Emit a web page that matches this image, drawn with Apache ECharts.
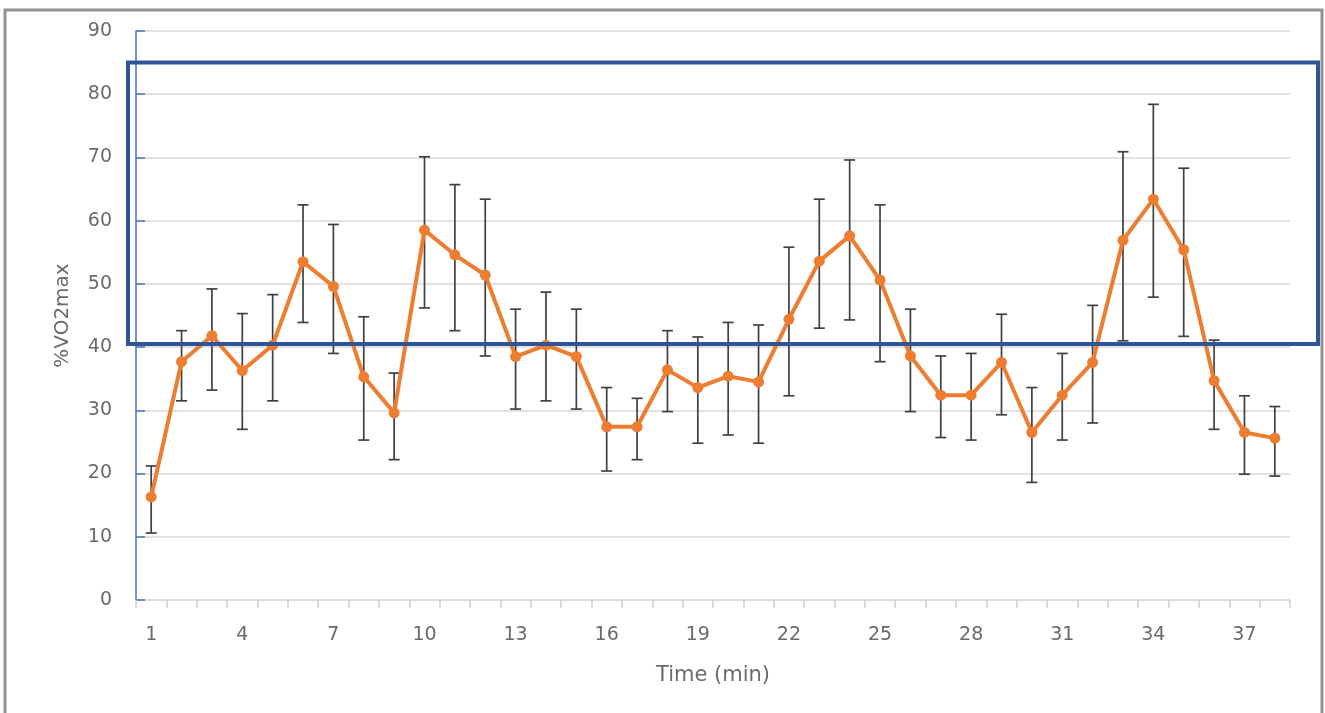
<!DOCTYPE html>
<html>
<head>
<meta charset="utf-8">
<script src="https://cdn.jsdelivr.net/npm/echarts@6/dist/echarts.min.js"></script>
<style>
html,body{margin:0;padding:0;background:#fff;}
#c{width:1325px;height:713px;}
</style>
</head>
<body>
<div id="c"></div>
<script>
var categories = ['1','2','3','4','5','6','7','8','9','10','11','12','13','14','15','16','17','18','19','20','21','22','23','24','25','26','27','28','29','30','31','32','33','34','35','36','37','38'];
var meanValues = [16.3,37.7,41.8,36.3,40.3,53.5,49.6,35.3,29.6,58.5,54.6,51.4,38.5,40.3,38.5,27.4,27.4,36.4,33.6,35.4,34.5,44.4,53.6,57.6,50.6,38.6,32.4,32.4,37.6,26.5,32.4,37.6,56.9,63.4,55.4,34.7,26.5,25.6];
var upperValues = [21.2,42.6,49.2,45.3,48.3,62.5,59.4,44.8,35.9,70.1,65.7,63.4,46.0,48.7,46.0,33.6,31.9,42.6,41.6,43.9,43.5,55.8,63.4,69.6,62.5,46.0,38.6,39.0,45.2,33.6,39.0,46.6,70.9,78.4,68.3,41.1,32.3,30.6];
var lowerValues = [10.6,31.5,33.2,27.0,31.5,43.9,39.0,25.3,22.2,46.2,42.6,38.6,30.2,31.5,30.2,20.4,22.2,29.8,24.8,26.1,24.8,32.3,43.0,44.3,37.7,29.8,25.7,25.3,29.3,18.6,25.3,28.0,41.0,47.9,41.7,27.0,19.9,19.6];
var yTicks = [0,10,20,30,40,50,60,70,80,90];
var highlightRange = [40.5, 85];

var errData = categories.map(function(c, i){ return [i, lowerValues[i], upperValues[i]]; });

var chart = echarts.init(document.getElementById('c'), null, {renderer:'canvas'});
var FONT = '"DejaVu Sans", "Open Sans", sans-serif';
var TXT = '#6a6a6a';
var option = {
  backgroundColor: '#ffffff',
  animation: false,
  grid: {left: 136, right: 35, top: 31, bottom: 113},
  xAxis: {
    type: 'category',
    data: categories,
    boundaryGap: true,
    name: 'Time (min)',
    nameLocation: 'middle',
    nameGap: 65,
    nameTextStyle: {color: TXT, fontSize: 21, fontFamily: FONT},
    axisLine: {lineStyle: {color: '#d9d9d9', width: 1.5}},
    axisTick: {show: true, interval: 0, length: 8, lineStyle: {color: '#d0d0d0', width: 1.5}},
    axisLabel: {interval: 2, color: TXT, fontSize: 19, fontFamily: FONT, margin: 26},
    splitLine: {show: false}
  },
  yAxis: {
    type: 'value',
    min: yTicks[0],
    max: yTicks[yTicks.length-1],
    interval: 10,
    name: '%VO2max',
    nameLocation: 'middle',
    nameGap: 63,
    nameRotate: 90,
    nameTextStyle: {color: TXT, fontSize: 20, fontFamily: FONT},
    axisLine: {show: true, lineStyle: {color: '#4472C4', width: 1.5}},
    axisTick: {show: true, inside: true, length: 9, lineStyle: {color: '#4472C4', width: 1.5}},
    axisLabel: {color: TXT, fontSize: 19, fontFamily: FONT, margin: 24},
    splitLine: {show: true, lineStyle: {color: '#d9d9d9', width: 1.5}}
  },
  series: [
    {
      type: 'custom',
      name: 'err',
      z: 2,
      data: errData,
      renderItem: function(params, api){
        var x = api.value(0);
        var lo = api.coord([x, api.value(1)]);
        var hi = api.coord([x, api.value(2)]);
        var xc = lo[0];
        var hw = 5.5;
        var st = {stroke: '#404040', lineWidth: 1.7};
        return {
          type: 'group',
          children: [
            {type: 'line', shape: {x1: xc, y1: hi[1], x2: xc, y2: lo[1]}, style: st},
            {type: 'line', shape: {x1: xc-hw, y1: hi[1], x2: xc+hw, y2: hi[1]}, style: st},
            {type: 'line', shape: {x1: xc-hw, y1: lo[1], x2: xc+hw, y2: lo[1]}, style: st}
          ]
        };
      }
    },
    {
      type: 'line',
      name: 'mean',
      z: 3,
      data: meanValues,
      symbol: 'circle',
      symbolSize: 11,
      lineStyle: {color: '#ED7D31', width: 4},
      itemStyle: {color: '#ED7D31'}
    }
  ]
};
chart.setOption(option);

var yTop = chart.convertToPixel({yAxisIndex: 0}, highlightRange[1]);
var yBot = chart.convertToPixel({yAxisIndex: 0}, highlightRange[0]);
chart.setOption({
  graphic: [
    {type: 'rect', shape: {x: 5, y: 10, width: 1317, height: 720}, style: {fill: 'none', stroke: '#939393', lineWidth: 3}, z: 10, silent: true},
    {type: 'rect', shape: {x: 128, y: yTop, width: 1190, height: yBot - yTop}, style: {fill: 'none', stroke: '#2F5597', lineWidth: 4}, z: 10, silent: true}
  ]
});
</script>
</body>
</html>
